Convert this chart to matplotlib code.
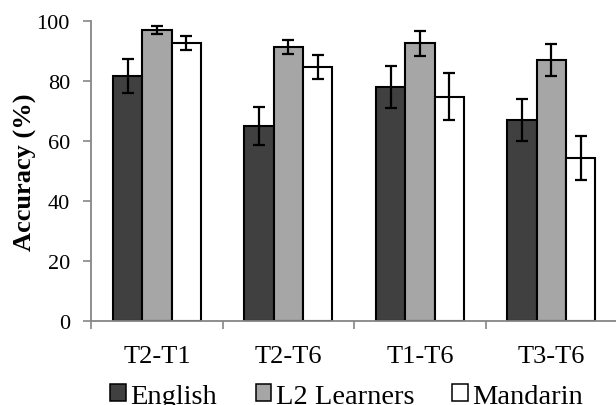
import numpy as np
import matplotlib
matplotlib.use('Agg')
import matplotlib.pyplot as plt
from matplotlib.patches import Patch

# данные
categories = ['T2-T1', 'T2-T6', 'T1-T6', 'T3-T6']
groups = ['English', 'L2 Learners', 'Mandarin']
english = [81.7, 65.1, 78.0, 67.1]
english_err = [5.7, 6.3, 7.0, 7.0]
l2 = [97.0, 91.4, 92.5, 87.0]
l2_err = [1.3, 2.4, 4.2, 5.3]
mandarin = [92.6, 84.6, 74.8, 54.3]
mandarin_err = [2.4, 4.0, 7.8, 7.4]

colors = ['#404040', '#a6a6a6', '#ffffff']
axis_gray = '#868686'

plt.rcParams['font.family'] = ['Liberation Serif', 'DejaVu Serif']

fig = plt.figure(figsize=(6.16, 4.06), dpi=100)
ax = fig.add_axes([0.148, 0.207, 0.854, 0.739])

x = np.arange(len(categories))
w = 0.223
series = [(english, english_err), (l2, l2_err), (mandarin, mandarin_err)]
for i, (vals, errs) in enumerate(series):
    ax.bar(x + (i - 1) * w, vals, w, yerr=errs, color=colors[i],
           edgecolor='black', linewidth=1.5, label=groups[i],
           error_kw=dict(ecolor='black', elinewidth=1.6, capsize=4.2, capthick=1.6))

ax.set_xlim(-0.5, 3.5)
ax.set_ylim(0, 100)
ax.set_yticks(np.arange(0, 101, 20))

# подписи категорий по центру, засечки на границах групп
ax.set_xticks(x)
ax.set_xticklabels(categories, fontsize=19)
ax.set_xticks(np.arange(-0.5, 3.6, 1), minor=True)
ax.tick_params(axis='x', which='major', length=0, pad=17)
ax.tick_params(axis='x', which='minor', length=5.5, width=1.2, color=axis_gray)
ax.tick_params(axis='y', length=5.8, width=1.2, color=axis_gray, pad=9.5, labelsize=16)

for s in ['top', 'right']:
    ax.spines[s].set_visible(False)
for s in ['left', 'bottom']:
    ax.spines[s].set_color(axis_gray)
    ax.spines[s].set_linewidth(1.3)

ax.set_ylabel('Accuracy (%)', fontsize=19, fontweight='bold', labelpad=0)

handles = [Patch(facecolor=c, edgecolor='black', linewidth=1.1) for c in colors]
fig.legend(handles, groups, loc='center', bbox_to_anchor=(0.563, 0.022), ncol=3,
           frameon=False, fontsize=20.5, handlelength=0.55, handleheight=0.55,
           handletextpad=0.15, columnspacing=1.35, borderaxespad=0)

plt.savefig('out.png', dpi=100)
plt.close()
